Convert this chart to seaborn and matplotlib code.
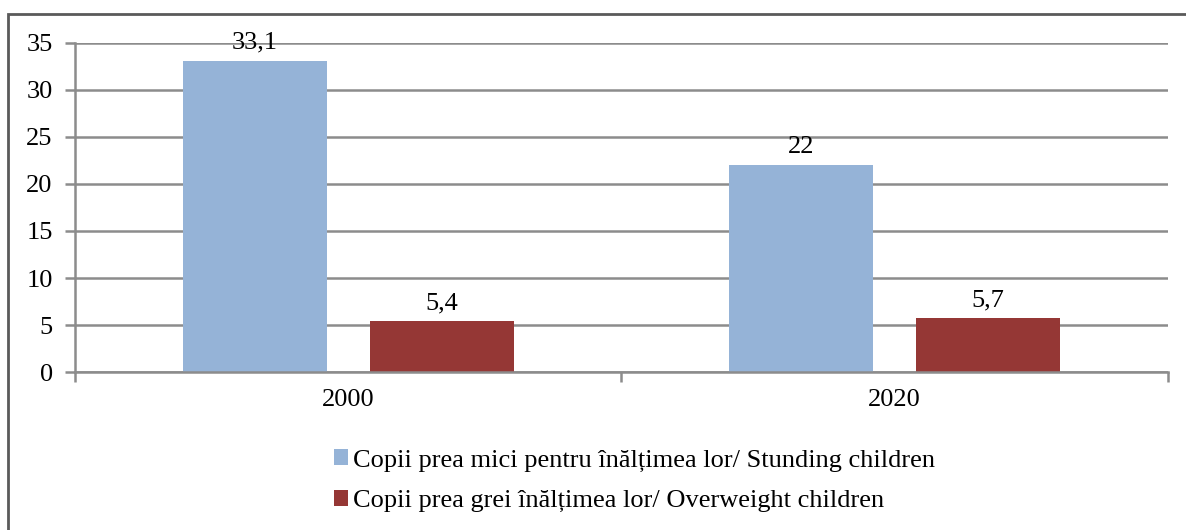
import pandas as pd
import matplotlib.pyplot as plt
import matplotlib.patches as mpatches
import seaborn as sns

years = ["2000", "2020"]
series = ["Copii prea mici pentru înălțimea lor/ Stunding children",
          "Copii prea grei înălțimea lor/ Overweight children"]
stunting = [33.1, 22]
overweight = [5.4, 5.7]
y_ticks = [0, 5, 10, 15, 20, 25, 30, 35]

df = pd.DataFrame({
    "year": years * 2,
    "series": [series[0]] * 2 + [series[1]] * 2,
    "value": stunting + overweight,
})

sns.set_style("white")
plt.rcParams['font.family'] = ['Liberation Serif', 'DejaVu Serif']
plt.rcParams['text.color'] = 'black'
plt.rcParams['xtick.color'] = 'black'
plt.rcParams['ytick.color'] = 'black'

fs = 19

fig = plt.figure(figsize=(11.86, 5.3), dpi=100)
ax = fig.add_axes([0.0632, 0.2981, 0.9216, 0.6208])

sns.barplot(data=df, x="year", y="value", hue="series",
            palette=["#95B3D7", "#953735"], width=0.684, gap=0.23,
            saturation=1, linewidth=0, edgecolor="none", ax=ax)

# value labels with comma decimals
for cont in ax.containers:
    labels = [f"{b.get_height():g}".replace(".", ",") for b in cont]
    ax.bar_label(cont, labels=labels, padding=5, fontsize=fs, color="black")

ax.set_ylim(0, 35)
ax.set_yticks(y_ticks)
ax.set_xlim(-0.5, 1.5)
ax.set_xlabel("")
ax.set_ylabel("")
ax.grid(axis="y", color="#8c8c8c", linewidth=1.8)
ax.set_axisbelow(True)
for s in ["top", "right"]:
    ax.spines[s].set_visible(False)
for s in ["left", "bottom"]:
    ax.spines[s].set_color("#8c8c8c")
    ax.spines[s].set_linewidth(1.8)
ax.tick_params(axis="y", length=7, width=1.8, color="#8c8c8c",
               labelsize=fs, labelcolor="black", pad=9, left=True,
               direction="out")
ax.tick_params(axis="x", which="major", length=0, labelsize=fs,
               labelcolor="black", pad=12)
ax.set_xticks([-0.5, 0.5, 1.5], minor=True)
ax.tick_params(axis="x", which="minor", length=7, width=1.8,
               color="#8c8c8c", bottom=True, direction="out")

handles, lbls = ax.get_legend_handles_labels()
ax.get_legend().remove()
fig.legend(handles, lbls, loc="upper center", bbox_to_anchor=(0.535, 0.197),
           ncol=1, frameon=False, fontsize=fs, handlelength=0.55,
           handleheight=0.55, handletextpad=0.2, labelspacing=0.68,
           alignment="left")

# outer chart border (extends past the right and bottom edges)
fig.patches.append(mpatches.Rectangle((8 / 1186, -0.1), 1.2, 1.1 - 14 / 530,
                                      transform=fig.transFigure, fill=False,
                                      edgecolor="#5a5a5a", linewidth=2))

fig.savefig("out.png", dpi=100)
